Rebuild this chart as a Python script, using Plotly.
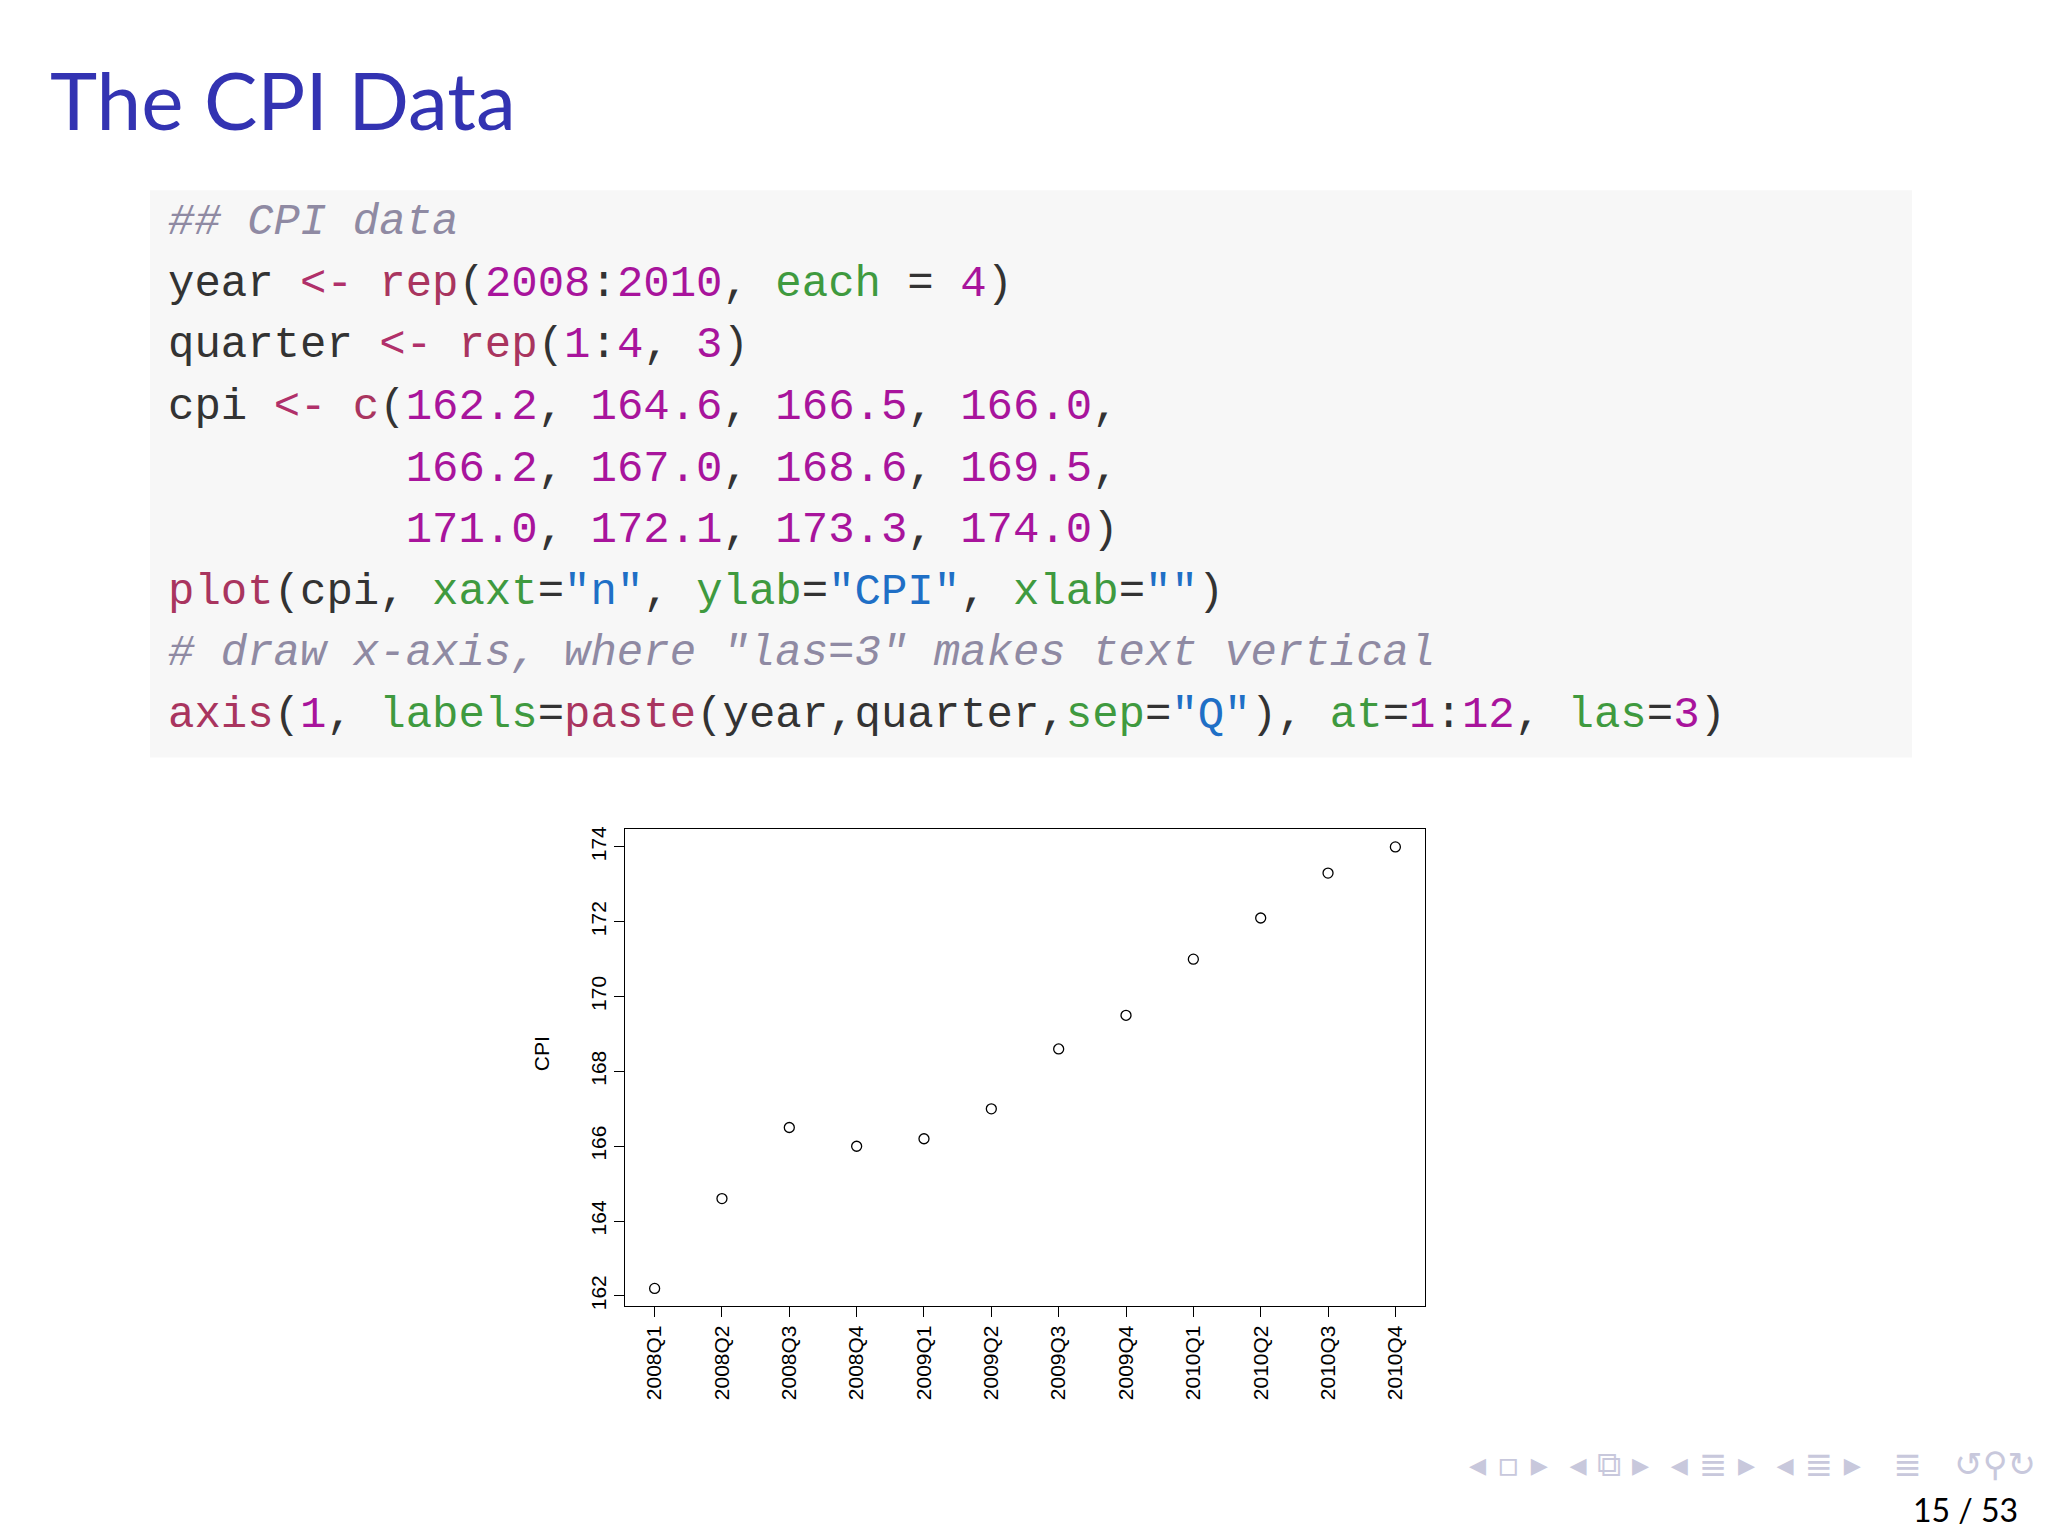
import plotly.graph_objects as go

year = [2008]*4 + [2009]*4 + [2010]*4
quarter = [1, 2, 3, 4]*3
cpi = [162.2, 164.6, 166.5, 166.0, 166.2, 167.0, 168.6, 169.5, 171.0, 172.1, 173.3, 174.0]
labels = [f"{y}Q{q}" for y, q in zip(year, quarter)]
index = list(range(1, 13))
yticks = [162, 164, 166, 168, 170, 172, 174]

W, H = 2048, 1536
fig = go.Figure()
fig.add_trace(go.Scatter(x=index, y=cpi, mode="markers",
                         marker=dict(symbol="circle-open", size=10, color="black", line=dict(width=1.3)),
                         showlegend=False))

X0, X1, Y0, Y1 = 617, 1417, 822, 1301
fig.update_layout(
    width=W, height=H, margin=dict(l=0, r=0, t=0, b=0),
    paper_bgcolor="white", plot_bgcolor="white",
    xaxis=dict(domain=[X0/W, X1/W], range=[0.56, 12.44], tickvals=index, ticktext=labels,
               tickangle=-90, ticks="outside", ticklen=10, tickcolor="black",
               showline=True, linecolor="black", mirror=True, showgrid=False, zeroline=False,
               tickfont=dict(family="Liberation Sans, Arial", size=21, color="black")),
    yaxis=dict(domain=[1-Y1/H, 1-Y0/H], range=[161.728, 174.472], tickvals=yticks,
               tickangle=-90, ticks="outside", ticklen=10, tickcolor="black",
               showline=True, linecolor="black", mirror=True, showgrid=False, zeroline=False,
               tickfont=dict(family="Liberation Sans, Arial", size=21, color="black")),
    font=dict(family="Liberation Sans, Arial"),
)

fig.add_shape(type="rect", xref="paper", yref="paper", x0=142/W, x1=1904/W,
              y0=1-750/H, y1=1-180/H, fillcolor="#f7f7f7", line=dict(width=0), layer="below")

fig.add_annotation(text="The CPI Data", xref="paper", yref="paper", x=40/W, y=1-88/H,
                   xanchor="left", yanchor="middle", showarrow=False,
                   font=dict(family="Lato, Noto Sans", size=80, color="#3333b2"))

CM = "#8f8aa3"; FN = "#a9355f"; NUM = "#a8149c"; OP = "#b0306a"; ARG = "#3f9a3f"; STR = "#1f6fc6"; TX = "#333333"
def s(t, c, it=False):
    t = t.replace(" ", "\u00a0")
    t = f'<span style="color:{c}">{t}</span>'
    return f"<i>{t}</i>" if it else t

lines = [
    s("## CPI data", CM, True),
    s("year ", TX) + s("<-", OP) + s(" ", TX) + s("rep", FN) + s("(", TX) + s("2008", NUM) + s(":", TX) + s("2010", NUM) + s(", ", TX) + s("each", ARG) + s(" = ", TX) + s("4", NUM) + s(")", TX),
    s("quarter ", TX) + s("<-", OP) + s(" ", TX) + s("rep", FN) + s("(", TX) + s("1", NUM) + s(":", TX) + s("4", NUM) + s(", ", TX) + s("3", NUM) + s(")", TX),
    s("cpi ", TX) + s("<-", OP) + s(" ", TX) + s("c", FN) + s("(", TX) + s("162.2", NUM) + s(", ", TX) + s("164.6", NUM) + s(", ", TX) + s("166.5", NUM) + s(", ", TX) + s("166.0", NUM) + s(",", TX),
    s("         ", TX) + s("166.2", NUM) + s(", ", TX) + s("167.0", NUM) + s(", ", TX) + s("168.6", NUM) + s(", ", TX) + s("169.5", NUM) + s(",", TX),
    s("         ", TX) + s("171.0", NUM) + s(", ", TX) + s("172.1", NUM) + s(", ", TX) + s("173.3", NUM) + s(", ", TX) + s("174.0", NUM) + s(")", TX),
    s("plot", FN) + s("(cpi, ", TX) + s("xaxt", ARG) + s("=", TX) + s('"n"', STR) + s(", ", TX) + s("ylab", ARG) + s("=", TX) + s('"CPI"', STR) + s(", ", TX) + s("xlab", ARG) + s("=", TX) + s('""', STR) + s(")", TX),
    s('# draw x-axis, where "las=3" makes text vertical', CM, True),
    s("axis", FN) + s("(", TX) + s("1", NUM) + s(", ", TX) + s("labels", ARG) + s("=", TX) + s("paste", FN) + s("(year,quarter,", TX) + s("sep", ARG) + s("=", TX) + s('"Q"', STR) + s("), ", TX) + s("at", ARG) + s("=", TX) + s("1", NUM) + s(":", TX) + s("12", NUM) + s(", ", TX) + s("las", ARG) + s("=", TX) + s("3", NUM) + s(")", TX),
]
ys = [212, 274, 336, 398, 460, 521, 584, 645, 707]
for t, yy in zip(lines, ys):
    fig.add_annotation(text=t, xref="paper", yref="paper", x=158/W, y=1-yy/H,
                       xanchor="left", yanchor="middle", showarrow=False,
                       font=dict(family="Liberation Mono", size=44, color=TX))

fig.add_annotation(text="CPI", xref="paper", yref="paper", x=520/W, y=1-1067/H, textangle=-90,
                   showarrow=False, font=dict(family="Liberation Sans, Arial", size=21, color="black"))

fig.add_annotation(text="◂ ▫ ▸  ◂ ⧉ ▸  ◂ ≣ ▸  ◂ ≣ ▸   ≣   ↺⚲↻", xref="paper", yref="paper",
                   x=2030/W, y=1-1460/H, xanchor="right", yanchor="middle", showarrow=False,
                   font=dict(family="DejaVu Sans", size=34, color="#c8c8dc"))
fig.add_annotation(text="15 / 53", xref="paper", yref="paper", x=2012/W, y=1-1505/H,
                   xanchor="right", yanchor="middle", showarrow=False,
                   font=dict(family="Lato, Noto Sans", size=32, color="black"))

fig.write_html("out.html")
